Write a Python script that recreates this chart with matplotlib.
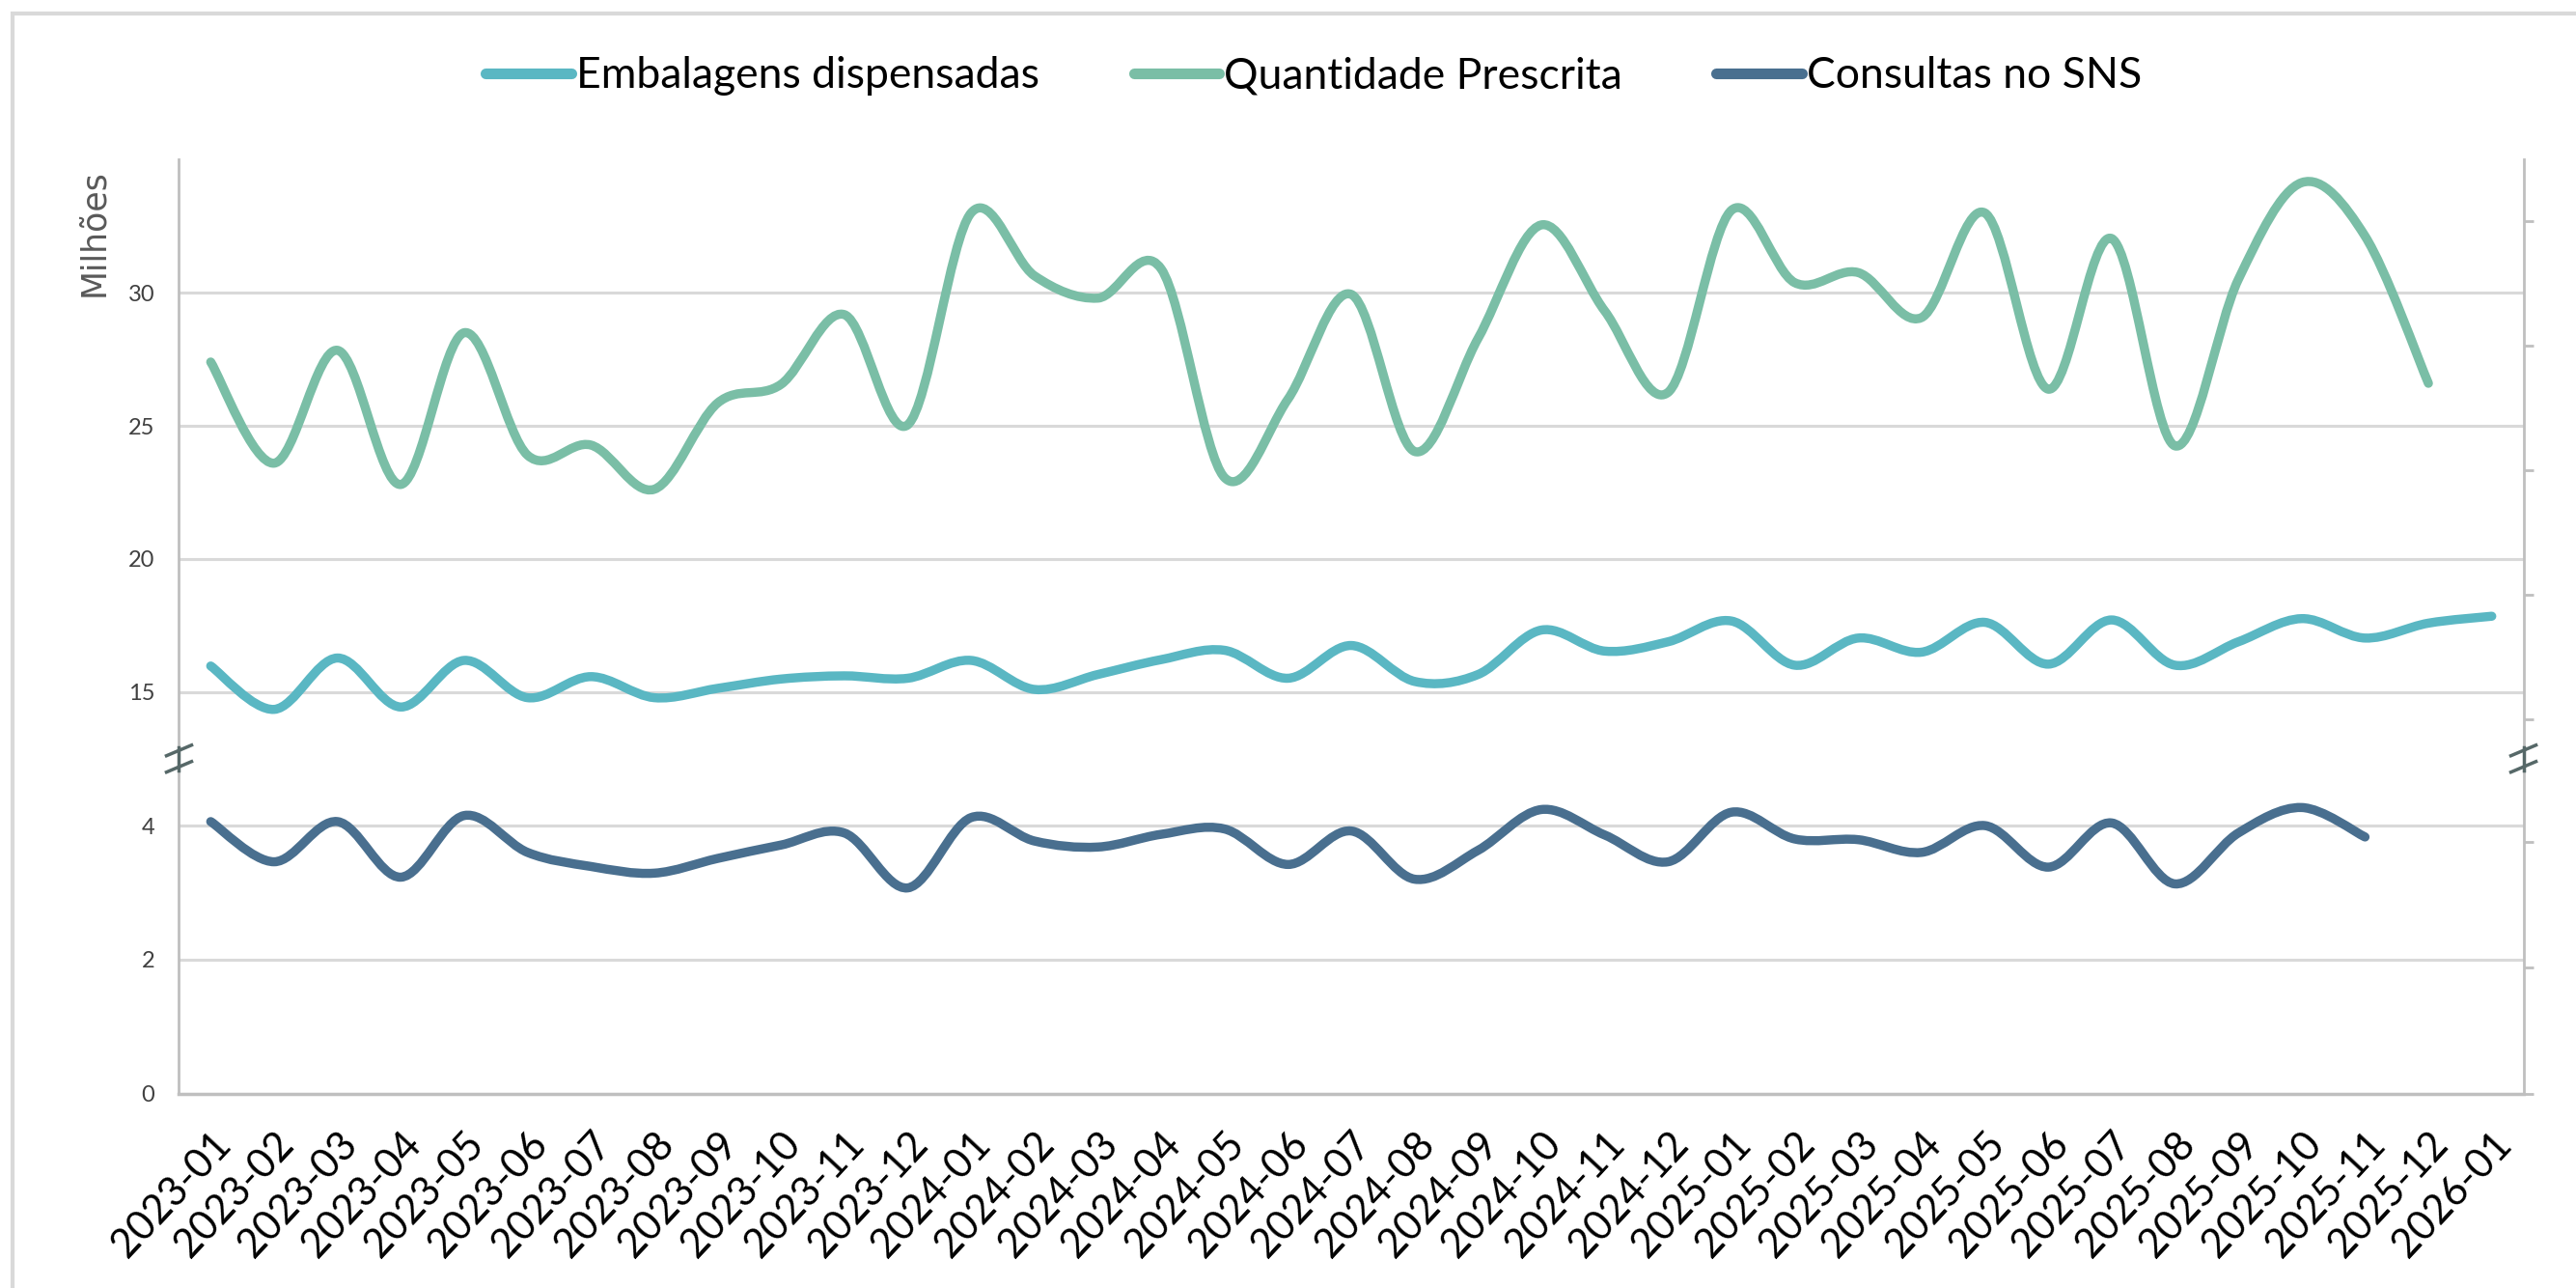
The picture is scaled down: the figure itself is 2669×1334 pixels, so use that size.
import numpy as np
import matplotlib
matplotlib.use('Agg')
import matplotlib.pyplot as plt
from matplotlib.path import Path
from matplotlib.patches import PathPatch, Rectangle
from matplotlib.lines import Line2D

# data (millions)
months = ['2023-01', '2023-02', '2023-03', '2023-04', '2023-05', '2023-06', '2023-07',
          '2023-08', '2023-09', '2023-10', '2023-11', '2023-12', '2024-01', '2024-02',
          '2024-03', '2024-04', '2024-05', '2024-06', '2024-07', '2024-08', '2024-09',
          '2024-10', '2024-11', '2024-12', '2025-01', '2025-02', '2025-03', '2025-04',
          '2025-05', '2025-06', '2025-07', '2025-08', '2025-09', '2025-10', '2025-11',
          '2025-12', '2026-01']

embalagens = [15.98, 14.35, 16.28, 14.44, 16.19, 14.79, 15.58, 14.79, 15.14, 15.49,
              15.61, 15.52, 16.19, 15.10, 15.66, 16.22, 16.57, 15.52, 16.75, 15.40,
              15.66, 17.33, 16.54, 16.89, 17.67, 16.01, 17.03, 16.50, 17.62, 16.05,
              17.71, 16.01, 16.89, 17.76, 17.03, 17.59, 17.85]

quantidade = [27.4, 23.6, 27.84, 22.8, 28.5, 23.9, 24.28, 22.62, 25.86, 26.56,
              29.18, 25.04, 33.0, 30.64, 29.8, 30.9, 23.06, 26.0, 29.94, 24.04,
              28.28, 32.55, 29.32, 26.26, 33.1, 30.38, 30.76, 29.07, 33.0, 26.38,
              32.04, 24.25, 30.5, 34.14, 32.13, 26.6]

consultas = [4.06, 3.46, 4.06, 3.23, 4.15, 3.60, 3.39, 3.29, 3.51, 3.71,
             3.89, 3.07, 4.12, 3.77, 3.68, 3.87, 3.95, 3.42, 3.92, 3.20,
             3.63, 4.24, 3.86, 3.46, 4.20, 3.80, 3.79, 3.60, 4.00, 3.38,
             4.04, 3.13, 3.89, 4.27, 3.83]

c_emb = '#5AB7C3'
c_qtd = '#7ABEA6'
c_con = '#496F8F'
grid_c = '#D9D9D9'
axis_c = '#BFBFBF'
LW = 6.8


def smooth_path(y):
    # Excel-like smoothed line: cubic bezier through every point
    x = np.arange(len(y), dtype=float)
    y = np.asarray(y, dtype=float)
    n = len(y)
    verts = [(x[0], y[0])]
    codes = [Path.MOVETO]
    for i in range(n - 1):
        a = i - 1 if i > 0 else i
        b = i + 2 if i + 2 < n else i + 1
        c1 = (x[i] + (x[i + 1] - x[a]) / 6, y[i] + (y[i + 1] - y[a]) / 6)
        c2 = (x[i + 1] - (x[b] - x[i]) / 6, y[i + 1] - (y[b] - y[i]) / 6)
        verts += [c1, c2, (x[i + 1], y[i + 1])]
        codes += [Path.CURVE4] * 3
    return Path(verts, codes)


fig = plt.figure(figsize=(26.69, 13.34), dpi=100)
fig.patches.append(Rectangle((13 / 2669, -0.5), 2.0, 0.5 + 1 - 14 / 1334, transform=fig.transFigure,
                             fill=False, edgecolor=grid_c, lw=3))

L, R = 0.0695, 0.9796
top_ax = fig.add_axes([L, 0.411, R - L, 0.876 - 0.411])
bot_ax = fig.add_axes([L, 0.151, R - L, 0.411 - 0.151])

top_ax.set_ylim(12.5, 35)
bot_ax.set_ylim(0, 5)
top_ax.set_yticks([15, 20, 25, 30])
bot_ax.set_yticks([0, 2, 4])

for ax in (top_ax, bot_ax):
    ax.set_xlim(-0.5, len(months) - 0.5)
    ax.grid(axis='y', color=grid_c, lw=2.2)
    ax.set_axisbelow(True)
    ax.spines['top'].set_visible(False)
    ax.spines['right'].set_visible(False)
    ax.spines['left'].set_color(axis_c)
    ax.spines['left'].set_linewidth(2)
    ax.tick_params(axis='y', length=0, pad=18, labelsize=17, labelcolor='#404040')
    for t in ax.get_yticklabels():
        t.set_family('Lato')
    # right-hand axis, ticks only
    rx = ax.twinx()
    rx.set_ylim(ax.get_ylim())
    rx.spines['top'].set_visible(False)
    rx.spines['left'].set_visible(False)
    rx.spines['bottom'].set_visible(False)
    rx.spines['right'].set_color(axis_c)
    rx.spines['right'].set_linewidth(2)
    rx.tick_params(axis='y', length=7, width=2, color=axis_c, labelright=False)

top_ax.spines['bottom'].set_visible(False)
top_ax.tick_params(axis='x', bottom=False, labelbottom=False)
fig.axes[2].set_yticks(np.arange(13.96, 35, 4.68))
fig.axes[3].set_yticks(np.arange(0, 5, 1.88))

bot_ax.spines['bottom'].set_color(axis_c)
bot_ax.spines['bottom'].set_linewidth(2.5)
bot_ax.set_xticks(np.arange(len(months)))
bot_ax.set_xticklabels(months, rotation=47, ha='right', va='top', rotation_mode='anchor',
                       fontsize=30, family='Lato')
bot_ax.tick_params(axis='x', length=0, pad=24)

top_ax.add_patch(PathPatch(smooth_path(quantidade), fill=False, edgecolor=c_qtd, lw=LW,
                           capstyle='round', joinstyle='round', transform=top_ax.transData))
top_ax.add_patch(PathPatch(smooth_path(embalagens), fill=False, edgecolor=c_emb, lw=LW,
                           capstyle='round', joinstyle='round', transform=top_ax.transData))
bot_ax.add_patch(PathPatch(smooth_path(consultas), fill=False, edgecolor=c_con, lw=LW,
                           capstyle='round', joinstyle='round', transform=bot_ax.transData))

# axis break marks
for xb in (L, R):
    for dy in (-8.5 / 1334, 8.5 / 1334):
        yb = 0.411 + dy
        fig.add_artist(Line2D([xb - 13 / 2669, xb + 13 / 2669], [yb - 5.5 / 1334, yb + 5.5 / 1334],
                              transform=fig.transFigure, color='#566868', lw=2.5))
    fig.add_artist(Line2D([xb, xb], [0.411 - 12 / 1334, 0.411 + 12 / 1334],
                          transform=fig.transFigure, color='#566868', lw=2.5))

fig.text(0.0364, 0.819, 'Milhões', rotation=90, ha='center', va='center', fontsize=25,
         color='#595959', family='DejaVu Sans')

handles = [Line2D([], [], color=c_emb, lw=8, solid_capstyle='round'),
           Line2D([], [], color=c_qtd, lw=8, solid_capstyle='round'),
           Line2D([], [], color=c_con, lw=8, solid_capstyle='round')]
fig.legend(handles, ['Embalagens dispensadas', 'Quantidade Prescrita', 'Consultas no SNS'],
           loc='center', bbox_to_anchor=(0.51, 0.941), ncol=3, frameon=False,
           prop={'family': 'Lato', 'size': 32}, handlelength=2.0, handletextpad=0.1,
           columnspacing=2.2)

fig.savefig('out.png', dpi=100, facecolor='white')
